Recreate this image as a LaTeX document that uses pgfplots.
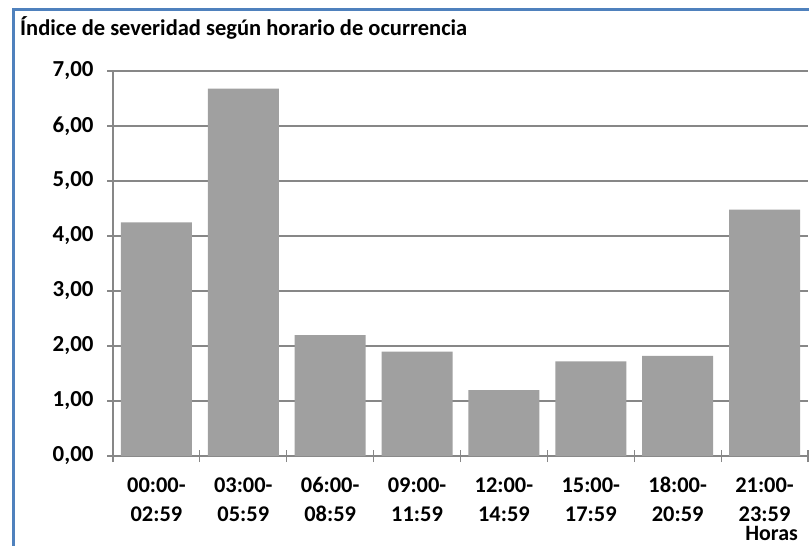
\documentclass[border=0pt]{standalone}
\usepackage{fontspec}
\setmainfont{Carlito}
\usepackage{pgfplots}
\pgfplotsset{compat=1.18}
\definecolor{bordeazul}{HTML}{4F81BD}
\definecolor{barra}{HTML}{A0A0A0}
\definecolor{rejilla}{HTML}{878787}

\begin{document}
\begin{tikzpicture}
\useasboundingbox (0bp,0bp) rectangle (809bp,-546bp);
\draw[bordeazul, line width=3bp] (13.5bp,-700bp) -- (13.5bp,-9.5bp) -- (900bp,-9.5bp);
\node[anchor=base west, inner sep=0pt, font=\bfseries\fontsize{22.6}{26}\selectfont]
  at (20bp,-35bp) {Índice de severidad según horario de ocurrencia};
\begin{axis}[
    at={(113bp,-456bp)}, anchor=south west,
    scale only axis,
    width=695bp, height=385bp,
    xmin=-0.5, xmax=7.5, ymin=0, ymax=7,
    ybar, bar width=71bp,
    axis lines*=left,
    axis line style={rejilla, line width=1.2bp, -},
    ytick={0,...,7},
    ymajorgrids,
    grid style={rejilla, line width=1.2bp},
    tick align=center,
    major tick length=12bp,
    minor tick length=12bp,
    y tick style={rejilla, line width=1.2bp},
    xtick={0,...,7},
    major x tick style={draw=none},
    minor xtick={-0.5,0.5,...,7.5},
    minor x tick style={rejilla, line width=1.2bp},
    xticklabels={{00:00-\\02:59},{03:00-\\05:59},{06:00-\\08:59},{09:00-\\11:59},
                 {12:00-\\14:59},{15:00-\\17:59},{18:00-\\20:59},{21:00-\\23:59}},
    xticklabel style={align=center, anchor=base, font=\bfseries\fontsize{22.5}{29}\selectfont, yshift=-59bp},
    yticklabel style={font=\bfseries\fontsize{23}{27}\selectfont, xshift=-10bp},
    /pgf/number format/.cd, use comma, fixed, fixed zerofill, precision=2, assume math mode=true,
  ]
  \addplot[fill=barra, draw=none] coordinates {
    (0,4.25) (1,6.68) (2,2.20) (3,1.90) (4,1.20) (5,1.72) (6,1.82) (7,4.48)
  };
\end{axis}
\node[anchor=base east, inner sep=0pt, font=\bfseries\fontsize{22}{26}\selectfont]
  at (798bp,-540bp) {Horas};
\end{tikzpicture}
\end{document}
